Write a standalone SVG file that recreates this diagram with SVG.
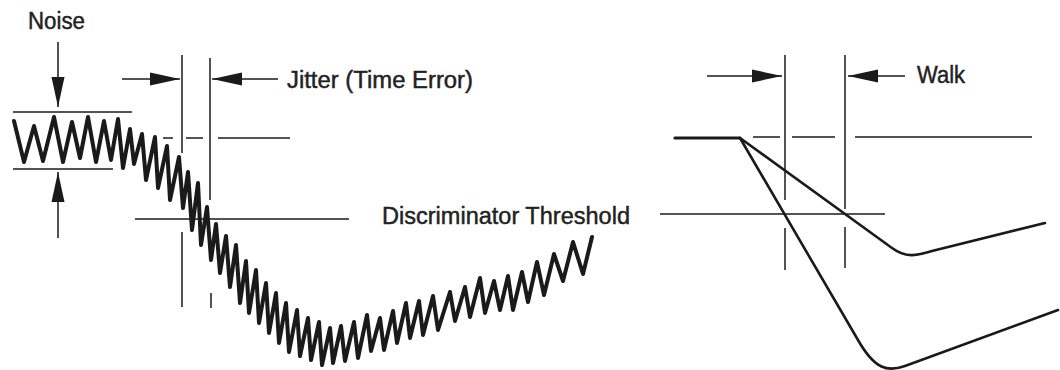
<svg xmlns="http://www.w3.org/2000/svg" width="1060" height="370" viewBox="0 0 1060 370">
<defs>
<style>
.lbl{font-family:"Liberation Sans",Arial,sans-serif;font-size:23px;fill:#222;stroke:#222;stroke-width:0.45;}
.thin{stroke:#1a1a1a;stroke-width:1.5;fill:none;}
.arr{stroke:#1a1a1a;stroke-width:1.5;fill:none;marker-end:url(#ah);}
.wave{stroke:#1a1a1a;stroke-width:4;fill:none;stroke-linejoin:round;stroke-linecap:round;}
.sig{stroke:#1a1a1a;stroke-width:2.6;fill:none;stroke-linejoin:round;stroke-linecap:round;}
</style>
<marker id="ah" markerUnits="userSpaceOnUse" markerWidth="32" markerHeight="16" viewBox="-31 -8 32 16" refX="0" refY="0" orient="auto">
<path d="M0,0 L-30,-6.5 L-30,6.5 Z" fill="#1a1a1a"/>
</marker>
</defs>
<rect width="1060" height="370" fill="#fff"/>

<g id="reference-lines">
<line class="thin" x1="13" y1="112" x2="132" y2="112"/>
<line class="thin" x1="13" y1="169" x2="113" y2="169"/>
<line class="thin" x1="135" y1="219" x2="349" y2="219"/>
<line class="thin" x1="163" y1="138" x2="173" y2="138"/>
<line class="thin" x1="186" y1="138" x2="203" y2="138"/>
<line class="thin" x1="218" y1="138" x2="290" y2="138"/>
<line class="thin" x1="182" y1="55" x2="182" y2="153"/>
<line class="thin" x1="182" y1="232" x2="182" y2="307"/>
<line class="thin" x1="210" y1="58" x2="210" y2="200"/>
<line class="thin" x1="211" y1="293" x2="211" y2="308"/>
<line class="thin" x1="660" y1="214" x2="885" y2="214"/>
<line class="thin" x1="753" y1="137" x2="780" y2="137"/>
<line class="thin" x1="792" y1="137" x2="835" y2="137"/>
<line class="thin" x1="855" y1="137" x2="1032" y2="137"/>
<line class="thin" x1="785" y1="55" x2="785" y2="200"/>
<line class="thin" x1="785" y1="228" x2="785" y2="270"/>
<line class="thin" x1="845" y1="55" x2="845" y2="209"/>
<line class="thin" x1="845" y1="227" x2="845" y2="268"/>
</g>

<g id="connectors">
<line class="arr" x1="58" y1="42" x2="58" y2="107"/>
<line class="arr" x1="58" y1="238" x2="58" y2="172"/>
<line class="arr" x1="122" y1="79" x2="180" y2="79"/>
<line class="arr" x1="278" y1="79" x2="212" y2="79"/>
<line class="arr" x1="707" y1="76" x2="782" y2="76"/>
<line class="arr" x1="905" y1="76" x2="848" y2="76"/>
</g>

<g id="noisy-signal">
<polyline class="wave" points="14,121 24,162 34,126 43,161 54,117 63,162 72,122 80,158 88,117 96,162 104,121 111,160 118,119 123,168 130,129 134,164 142,134 146,180 155,137 158,188 167,146 170,200 179,157 183,208 188,172 192,230 198,183 201,245 207,207 211,260 216,224 220,273 226,236 230,287 236,245 240,303 246,261 249,313 256,270 259,323 266,283 269,333 276,293 279,343 286,303 289,352 297,310 300,356 308,318 311,360 319,322 322,365 330,328 333,363 341,326 345,361 354,322 358,358 367,315 371,351 380,318 384,350 393,311 397,343 406,303 410,338 419,301 423,335 433,296 438,330 450,292 455,321 465,287 470,317 480,278 485,313 494,281 500,310 508,276 513,310 522,272 528,302 537,262 544,295 554,254 563,281 573,242 583,274 592,237"/>
</g>

<g id="walk-signals">
<path class="sig" style="stroke-width:3.2" d="M675,138 L740,138"/>
<path class="sig" d="M740,138 L892,248 C906,258 916,256 932,251 L1045,223"/>
<path class="sig" d="M740,138 L858,340 C875,370 888,372 905,366 L1058,310"/>
</g>

<g id="noise-label"><text class="lbl" x="28" y="29" textLength="57" lengthAdjust="spacingAndGlyphs">Noise</text></g>
<g id="jitter-label"><text class="lbl" x="287" y="88" textLength="186" lengthAdjust="spacingAndGlyphs">Jitter (Time Error)</text></g>
<g id="threshold-label"><text class="lbl" x="382" y="224" textLength="248" lengthAdjust="spacingAndGlyphs">Discriminator Threshold</text></g>
<g id="walk-label"><text class="lbl" x="917" y="83" textLength="48" lengthAdjust="spacingAndGlyphs">Walk</text></g>
</svg>
